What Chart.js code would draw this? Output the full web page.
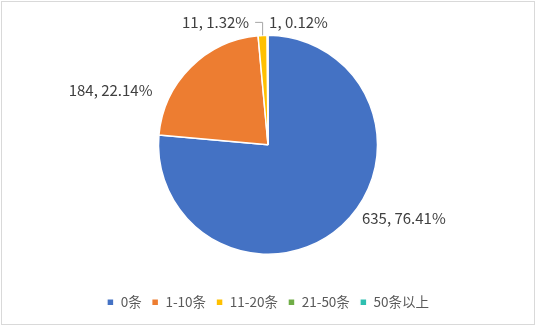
<!DOCTYPE html>
<html>
<head>
<meta charset="utf-8">
<script src="https://cdn.jsdelivr.net/npm/chart.js@4"></script>
<style>
  html, body { margin: 0; padding: 0; background: #fff; }
  canvas { display: block; }
</style>
</head>
<body>
<canvas id="pie" width="536" height="326"></canvas>
<script>
const categories = ['0条', '1-10条', '11-20条', '21-50条', '50条以上'];
const counts = [635, 184, 11, 1, 0];
const colors = ['#4472C4', '#ED7D31', '#FFC000', '#70AD47', '#2EBFB0'];

const FONT = "'Noto Sans CJK SC', 'Noto Sans', sans-serif";
const total = counts.reduce((a, b) => a + b, 0);

// label placement relative to the outer middle point of each slice
const labelPlacement = [
    { dx: 20, dy: -7, align: 'left' },
    { dx: -38, dy: 23, align: 'right' },
    { dx: -13.5, dy: -13, align: 'right', leader: true },
    { dx: 1.5, dy: -13, align: 'left' },
    { dx: 0, dy: -13, align: 'left' }
];

const sliceLabels = {
    id: 'sliceLabels',
    afterDatasetsDraw(chart) {
        const ctx = chart.ctx;
        const meta = chart.getDatasetMeta(0);
        ctx.save();
        ctx.font = '15px ' + FONT;
        ctx.fillStyle = '#404040';
        ctx.textBaseline = 'middle';
        meta.data.forEach((arc, i) => {
            const v = counts[i];
            if (!v) return;
            const p = arc.getProps(['x', 'y', 'startAngle', 'endAngle', 'outerRadius'], true);
            const mid = (p.startAngle + p.endAngle) / 2;
            const ax = p.x + Math.cos(mid) * p.outerRadius;
            const ay = p.y + Math.sin(mid) * p.outerRadius;
            const pl = labelPlacement[i];
            const lx = ax + pl.dx, ly = ay + pl.dy;
            if (pl.leader) {
                ctx.strokeStyle = '#a6a6a6';
                ctx.lineWidth = 1;
                ctx.beginPath();
                ctx.moveTo(ax, ay);
                ctx.lineTo(ax, ly);
                ctx.lineTo(lx + 6, ly);
                ctx.stroke();
            }
            ctx.textAlign = pl.align;
            ctx.fillText(v + ', ' + (v / total * 100).toFixed(2) + '%', lx, ly);
        });
        ctx.restore();
    }
};

const frame = {
    id: 'frame',
    beforeDraw(chart) {
        const ctx = chart.ctx;
        ctx.save();
        ctx.fillStyle = '#fff';
        ctx.fillRect(0, 0, chart.width, chart.height);
        ctx.strokeStyle = '#d9d9d9';
        ctx.lineWidth = 1;
        ctx.strokeRect(1.5, 1.5, chart.width - 3, chart.height - 3);
        ctx.restore();
    }
};

new Chart(document.getElementById('pie'), {
    type: 'pie',
    data: {
        labels: categories,
        datasets: [{
            data: counts,
            backgroundColor: colors,
            borderColor: '#fff',
            borderWidth: 1.5,
            radius: 109.5
        }]
    },
    options: {
        responsive: false,
        animation: false,
        layout: { padding: { top: 4, bottom: 7 } },
        plugins: {
            tooltip: { enabled: false },
            legend: {
                position: 'bottom',
                labels: {
                    boxWidth: 7,
                    boxHeight: 7,
                    padding: 10,
                    color: '#595959',
                    font: { family: FONT, size: 13.5 }
                }
            }
        }
    },
    plugins: [frame, sliceLabels]
});
</script>
</body>
</html>
